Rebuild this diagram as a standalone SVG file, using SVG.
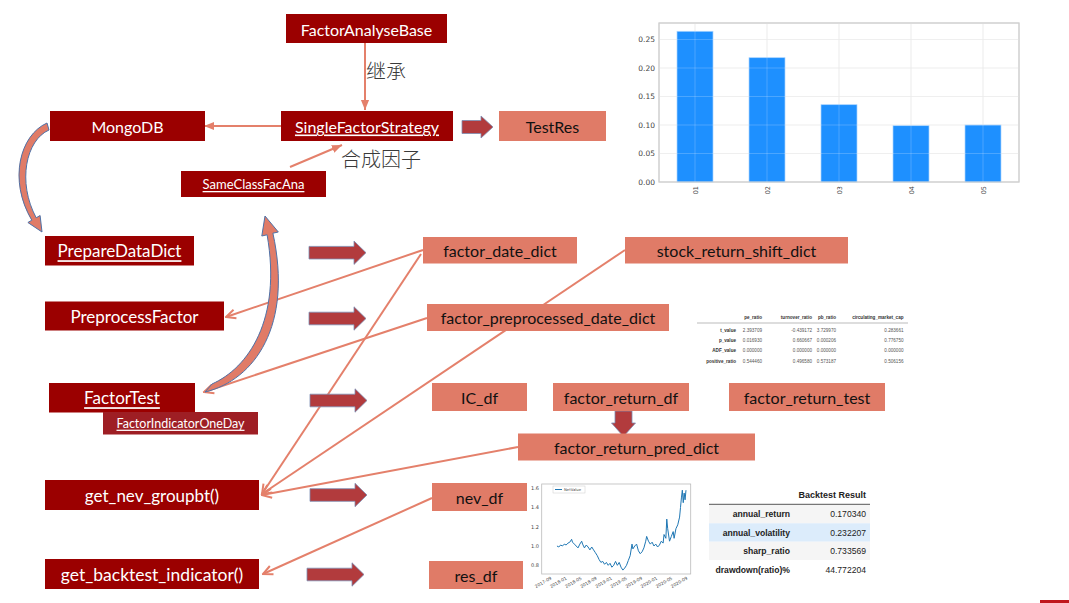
<svg xmlns="http://www.w3.org/2000/svg" width="1069" height="603" viewBox="0 0 1069 603">
<style>
.dk{fill:#9B0000}
.dk2{fill:#9E1E24}
.sl{fill:#E07B67}
.wt{font-family:Lato,"Liberation Sans",sans-serif;fill:#fff;text-anchor:middle;dominant-baseline:central}
.bt{font-family:Lato,"Liberation Sans",sans-serif;fill:#111;text-anchor:middle;dominant-baseline:central;font-size:16px}
.ul{text-decoration:underline}
.cn{stroke:#E4806B;stroke-width:2;fill:none}
.blk{fill:#B23B3D;stroke:#7C8DB3;stroke-width:0.8}
.cv{fill:#E07B67;stroke:#4E72A8;stroke-width:1}
.zh{font-family:"Noto Sans CJK SC",sans-serif;font-size:20px;font-weight:300;fill:#3a3a3a;text-anchor:middle}
.ax{font-family:"DejaVu Sans","Liberation Sans",sans-serif;fill:#444}
.tb{font-family:"Liberation Sans",Arial,sans-serif;fill:#555;font-size:4.6px}
.tr{font-family:"Liberation Sans",Arial,sans-serif;fill:#222;font-size:8.6px}
</style>
<defs>
<marker id="av" markerUnits="userSpaceOnUse" viewBox="0 0 12 12" markerWidth="12" markerHeight="12" refX="10.5" refY="6" orient="auto">
<path d="M1,1.5 L10.5,6 L1,10.5" fill="none" stroke="#E4806B" stroke-width="2"/>
</marker>
<marker id="af" markerUnits="userSpaceOnUse" viewBox="0 0 12 12" markerWidth="11" markerHeight="11" refX="11" refY="6" orient="auto">
<path d="M0,1.5 L11,6 L0,10.5 Z" fill="#E4806B"/>
</marker>
<path id="barrow" d="M0,-6.3 L45,-6.3 L45,-11.7 L57,0 L45,11.7 L45,6.3 L0,6.3 Z"/>
</defs>
<rect width="1069" height="603" fill="#fff"/>

<!-- bar chart -->
<g id="bar-chart">
<rect x="659" y="23" width="360" height="159" fill="#fff" stroke="#cfcfcf" stroke-width="1"/>
<g stroke="#e6e6e6" stroke-width="0.8">
<line x1="659" y1="39.5" x2="1019" y2="39.5"/><line x1="659" y1="68" x2="1019" y2="68"/>
<line x1="659" y1="96.5" x2="1019" y2="96.5"/><line x1="659" y1="125" x2="1019" y2="125"/>
<line x1="659" y1="153.5" x2="1019" y2="153.5"/>
<line x1="695" y1="23" x2="695" y2="182"/><line x1="767" y1="23" x2="767" y2="182"/>
<line x1="839" y1="23" x2="839" y2="182"/><line x1="911" y1="23" x2="911" y2="182"/>
<line x1="983" y1="23" x2="983" y2="182"/>
</g>
<g fill="#1E90FF" stroke="#A9D4FF" stroke-width="0.7">
<rect x="677" y="31.3" width="36" height="150.7"/>
<rect x="749" y="57.7" width="36" height="124.3"/>
<rect x="821" y="104.7" width="36" height="77.3"/>
<rect x="893" y="125.7" width="36" height="56.3"/>
<rect x="965" y="125" width="36" height="57"/>
</g>
<g stroke="#ffffff" stroke-opacity="0.25" stroke-width="0.8">
<line x1="695" y1="31.3" x2="695" y2="182"/><line x1="767" y1="57.7" x2="767" y2="182"/>
<line x1="839" y1="104.7" x2="839" y2="182"/><line x1="911" y1="125.7" x2="911" y2="182"/>
<line x1="983" y1="125" x2="983" y2="182"/>
<line x1="659" y1="39.5" x2="1019" y2="39.5"/><line x1="659" y1="68" x2="1019" y2="68"/>
<line x1="659" y1="96.5" x2="1019" y2="96.5"/><line x1="659" y1="125" x2="1019" y2="125"/>
<line x1="659" y1="153.5" x2="1019" y2="153.5"/>
</g>
<rect x="659" y="23" width="360" height="159" fill="none" stroke="#cfcfcf" stroke-width="1"/>
<g class="ax" font-size="7.5" text-anchor="end">
<text x="655" y="42">0.25</text><text x="655" y="70.5">0.20</text>
<text x="655" y="99">0.15</text><text x="655" y="127.5">0.10</text>
<text x="655" y="156">0.05</text><text x="655" y="184.5">0.00</text>
</g>
<g class="ax" font-size="6.5" text-anchor="end">
<text x="697.5" y="186" transform="rotate(-90 697.5 186)">01</text>
<text x="769.5" y="186" transform="rotate(-90 769.5 186)">02</text>
<text x="841.5" y="186" transform="rotate(-90 841.5 186)">03</text>
<text x="913.5" y="186" transform="rotate(-90 913.5 186)">04</text>
<text x="985.5" y="186" transform="rotate(-90 985.5 186)">05</text>
</g>
</g>

<!-- stats table -->
<g id="stats-table" class="tb">
<g font-weight="bold" fill="#333" text-anchor="end">
<text x="762" y="318.5">pe_ratio</text><text x="812" y="318.5">turnover_ratio</text>
<text x="836" y="318.5">pb_ratio</text><text x="903.5" y="318.5">circulating_market_cap</text>
</g>
<line x1="697" y1="323" x2="908" y2="323" stroke="#bbb" stroke-width="1"/>
<g font-weight="bold" fill="#333" text-anchor="end">
<text x="736" y="332">t_value</text><text x="736" y="342">p_value</text>
<text x="736" y="352">ADF_value</text><text x="736" y="363">positive_ratio</text>
</g>
<g text-anchor="end">
<text x="762" y="332">2.393709</text><text x="812" y="332">-0.439172</text><text x="836" y="332">3.729970</text><text x="903.5" y="332">0.283661</text>
<text x="762" y="342">0.016930</text><text x="812" y="342">0.660667</text><text x="836" y="342">0.000206</text><text x="903.5" y="342">0.776750</text>
<text x="762" y="352">0.000000</text><text x="812" y="352">0.000000</text><text x="836" y="352">0.000000</text><text x="903.5" y="352">0.000000</text>
<text x="762" y="363">0.544460</text><text x="812" y="363">0.496580</text><text x="836" y="363">0.573187</text><text x="903.5" y="363">0.506156</text>
</g>
</g>

<!-- line chart -->
<g id="line-chart">
<rect x="541.7" y="484" width="149" height="90" fill="#fff" stroke="#bbb" stroke-width="0.8"/>
<polyline fill="none" stroke="#1f77b4" stroke-width="1" vector-effect="non-scaling-stroke" transform="matrix(0.915,0,0,1,58.3,0)" points="545,546 547,547 549,545 551,546 553,544.1 555,545 557,543.1 559,542.2 561,539.3 562,542.2 564,544.1 566,546 568,547.9 570,544.1 572,541.2 573,544.1 575,547.9 577,545 579,547 581,549.9 583,547 585,549.9 587,552.7 589,555.6 591,559.5 593,562.4 595,561.4 597,564.3 599,562.4 601,565.3 603,563.3 605,567.2 607,565.3 609,561.4 611,565.3 613,562.4 615,567.2 617,570.1 619,568.1 621,565.3 623,560.4 625,555.6 627,544.1 628,548.9 630,546 632,544.1 634,550.8 636,553.7 638,551.8 640,547.9 642,541.2 643,536.4 645,541.2 647,544.1 649,542.2 651,546 653,544.1 655,547 657,545 659,541.2 661,543.1 662,534.5 664,538.3 665,519.1 666,528.7 668,541.2 670,536.4 672,531.6 673,538.3 675,528.7 677,524.8 679,517.1 680,507.5 681,497.9 682,490.2 683,502.7 684,493.1 685,499.8 686,490.2"/>
<rect x="553" y="486" width="32" height="7" fill="#fff" stroke="#ccc" stroke-width="0.5"/>
<line x1="555" y1="489.5" x2="562" y2="489.5" stroke="#1f77b4" stroke-width="1"/>
<text x="564" y="491" class="ax" font-size="3.8">NetValue</text>
<g class="ax" font-size="5" text-anchor="end">
<text x="539" y="490">1.6</text><text x="539" y="509">1.4</text>
<text x="539" y="528.5">1.2</text><text x="539" y="548">1.0</text>
<text x="539" y="567">0.8</text>
</g>
<g class="ax" font-size="4.4" text-anchor="end">
<text x="552" y="579" transform="rotate(-30 552 579)">2017-09</text>
<text x="567.1" y="579" transform="rotate(-30 567.1 579)">2018-01</text>
<text x="582.2" y="579" transform="rotate(-30 582.2 579)">2018-05</text>
<text x="597.3" y="579" transform="rotate(-30 597.3 579)">2018-09</text>
<text x="612.4" y="579" transform="rotate(-30 612.4 579)">2019-01</text>
<text x="627.5" y="579" transform="rotate(-30 627.5 579)">2019-05</text>
<text x="642.6" y="579" transform="rotate(-30 642.6 579)">2019-09</text>
<text x="657.7" y="579" transform="rotate(-30 657.7 579)">2020-01</text>
<text x="672.8" y="579" transform="rotate(-30 672.8 579)">2020-05</text>
<text x="687.9" y="579" transform="rotate(-30 687.9 579)">2020-09</text>
</g>
</g>

<!-- backtest table -->
<g id="backtest-table" class="tr">
<rect x="709" y="504.5" width="161" height="18.8" fill="#f5f5f5"/>
<rect x="709" y="523.3" width="161" height="18.4" fill="#dcecfb"/>
<rect x="709" y="541.7" width="161" height="18.3" fill="#f5f5f5"/>
<text x="866" y="498" text-anchor="end" font-weight="bold" font-size="9">Backtest Result</text>
<line x1="709" y1="504.3" x2="870" y2="504.3" stroke="#777" stroke-width="1.3"/>
<g text-anchor="end" font-weight="bold">
<text x="790" y="516.5">annual_return</text>
<text x="790" y="535.5">annual_volatility</text>
<text x="790" y="554">sharp_ratio</text>
<text x="790" y="572.5">drawdown(ratio)%</text>
</g>
<g text-anchor="end">
<text x="866" y="516.5">0.170340</text>
<text x="866" y="535.5">0.232207</text>
<text x="866" y="554">0.733569</text>
<text x="866" y="572.5">44.772204</text>
</g>
</g>

<!-- connectors -->
<g id="connectors">
<line class="cn" x1="365" y1="43" x2="365" y2="110" marker-end="url(#af)"/>
<line class="cn" x1="281" y1="126" x2="204" y2="126" marker-end="url(#af)"/>
<line class="cn" x1="290" y1="167" x2="342" y2="145" marker-end="url(#af)"/>
<line class="cn" x1="423" y1="250" x2="226" y2="317" marker-end="url(#av)"/>
<line class="cn" x1="421" y1="254" x2="262" y2="494" marker-end="url(#av)"/>
<line class="cn" x1="427" y1="318" x2="204" y2="392" marker-end="url(#av)"/>
<line class="cn" x1="625" y1="250" x2="262" y2="494" marker-end="url(#av)"/>
<line class="cn" x1="518" y1="447" x2="262" y2="495" marker-end="url(#av)"/>
<line class="cn" x1="432" y1="498" x2="263" y2="574" marker-end="url(#av)"/>
<path class="blk" d="M462,120.5 L481,120.5 L481,116 L493,127 L481,138 L481,133.5 L462,133.5 Z"/>
<use href="#barrow" class="blk" x="309" y="252.7"/>
<use href="#barrow" class="blk" x="309" y="318.5"/>
<use href="#barrow" class="blk" x="310" y="400.5"/>
<use href="#barrow" class="blk" x="310" y="495"/>
<use href="#barrow" class="blk" x="307" y="574.5"/>
<path class="blk" d="M615,411 L632,411 L632,423 L635.5,423 L623.5,436.5 L611.5,423 L615,423 Z"/>
<path class="cv" d="M47,123 C20,135 8,180 31.8,220.2 L27.9,222.5 L42,232 L40.1,215.5 L36.2,217.8 C17,182 26,140 49,130 Z"/>
<path class="cv" d="M205,392 C255,380 293,325 272.9,233.2 L278.3,232 L265,216 L261.8,236 L267.1,234.8 C282,320 248,368 212,384 Z"/>
</g>

<text class="zh" x="386" y="79">继承</text>
<text class="zh" x="381" y="167">合成因子</text>

<!-- nodes -->
<g id="FactorAnalyseBase"><rect class="dk" x="286" y="14" width="161" height="29"/><text class="wt" x="366.5" y="29" font-size="16">FactorAnalyseBase</text></g>
<g id="MongoDB"><rect class="dk" x="50" y="111" width="155" height="30"/><text class="wt" x="127.5" y="126" font-size="16">MongoDB</text></g>
<g id="SingleFactorStrategy"><rect class="dk" x="281" y="111" width="172" height="30"/><text class="wt ul" x="367" y="126" font-size="16">SingleFactorStrategy</text></g>
<g id="TestRes"><rect class="sl" x="499" y="111" width="107" height="30"/><text class="bt" x="552.5" y="126">TestRes</text></g>
<g id="SameClassFacAna"><rect class="dk" x="181" y="171" width="145" height="26"/><text class="wt ul" x="253.5" y="184" font-size="13">SameClassFacAna</text></g>
<g id="PrepareDataDict"><rect class="dk" x="45" y="236" width="149" height="29.5"/><text class="wt ul" x="119.5" y="250.7" font-size="17">PrepareDataDict</text></g>
<g id="PreprocessFactor"><rect class="dk" x="45" y="301.5" width="179" height="29"/><text class="wt" x="134.5" y="316" font-size="17">PreprocessFactor</text></g>
<g id="FactorTest"><rect class="dk" x="49" y="383" width="146" height="29.5"/><text class="wt ul" x="122" y="397.7" font-size="17">FactorTest</text></g>
<g id="FactorIndicatorOneDay"><rect class="dk2" x="103" y="412" width="155" height="22.5"/><text class="wt ul" x="180.5" y="423.2" font-size="12.5">FactorIndicatorOneDay</text></g>
<g id="get_nev_groupbt"><rect class="dk" x="45" y="480" width="214" height="30"/><text class="wt" x="152" y="495" font-size="17">get_nev_groupbt()</text></g>
<g id="get_backtest_indicator"><rect class="dk" x="45" y="559" width="214" height="30"/><text class="wt" x="152" y="574" font-size="17.5">get_backtest_indicator()</text></g>
<g id="factor_date_dict"><rect class="sl" x="423" y="237" width="154" height="26.5"/><text class="bt" x="500" y="250.2">factor_date_dict</text></g>
<g id="stock_return_shift_dict"><rect class="sl" x="625" y="237" width="223" height="26.5"/><text class="bt" x="736.5" y="250.2">stock_return_shift_dict</text></g>
<g id="factor_preprocessed_date_dict"><rect class="sl" x="427" y="304" width="242" height="27"/><text class="bt" x="548" y="317.5">factor_preprocessed_date_dict</text></g>
<g id="IC_df"><rect class="sl" x="432" y="383" width="95" height="28"/><text class="bt" x="479.5" y="397">IC_df</text></g>
<g id="factor_return_df"><rect class="sl" x="553" y="383" width="136" height="28"/><text class="bt" x="621" y="397">factor_return_df</text></g>
<g id="factor_return_test"><rect class="sl" x="729" y="383" width="156" height="28"/><text class="bt" x="807" y="397">factor_return_test</text></g>
<g id="factor_return_pred_dict"><rect class="sl" x="518" y="433.5" width="237" height="27"/><text class="bt" x="636.5" y="447">factor_return_pred_dict</text></g>
<g id="nev_df"><rect class="sl" x="432" y="483" width="95" height="28"/><text class="bt" x="479.5" y="497">nev_df</text></g>
<g id="res_df"><rect class="sl" x="429" y="561" width="94" height="28"/><text class="bt" x="476" y="575">res_df</text></g>

<rect x="1040" y="600" width="29" height="3" fill="#C0171D"/>
</svg>
